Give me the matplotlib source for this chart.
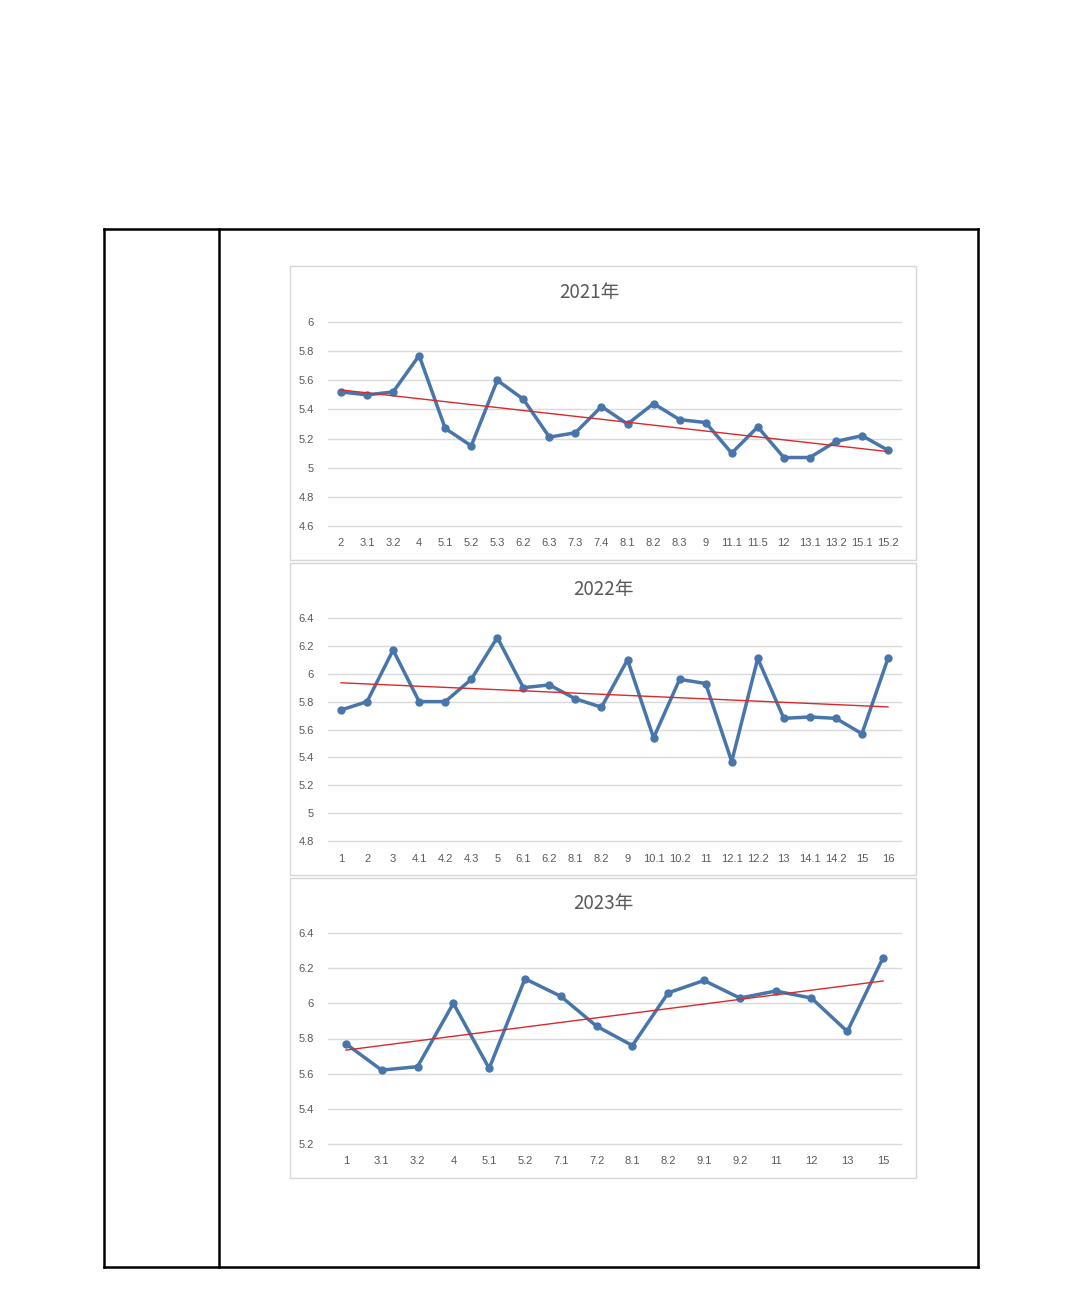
import numpy as np
import matplotlib
matplotlib.use("Agg")
import matplotlib.pyplot as plt
from matplotlib.patches import Rectangle
from matplotlib.lines import Line2D

# ---------------- data ----------------
labels_2021 = ["2", "3.1", "3.2", "4", "5.1", "5.2", "5.3", "6.2", "6.3", "7.3", "7.4",
               "8.1", "8.2", "8.3", "9", "11.1", "11.5", "12", "13.1", "13.2", "15.1", "15.2"]
values_2021 = [5.52, 5.50, 5.52, 5.77, 5.27, 5.15, 5.60, 5.47, 5.21, 5.24, 5.42,
               5.30, 5.44, 5.33, 5.31, 5.10, 5.28, 5.07, 5.07, 5.18, 5.22, 5.12]

labels_2022 = ["1", "2", "3", "4.1", "4.2", "4.3", "5", "6.1", "6.2", "8.1", "8.2",
               "9", "10.1", "10.2", "11", "12.1", "12.2", "13", "14.1", "14.2", "15", "16"]
values_2022 = [5.74, 5.80, 6.17, 5.80, 5.80, 5.96, 6.26, 5.90, 5.92, 5.82, 5.76,
               6.10, 5.54, 5.96, 5.93, 5.37, 6.11, 5.68, 5.69, 5.68, 5.57, 6.11]

labels_2023 = ["1", "3.1", "3.2", "4", "5.1", "5.2", "7.1", "7.2", "8.1", "8.2",
               "9.1", "9.2", "11", "12", "13", "15"]
values_2023 = [5.77, 5.62, 5.64, 6.00, 5.63, 6.14, 6.04, 5.87, 5.76, 6.06,
               6.13, 6.03, 6.07, 6.03, 5.84, 6.26]

titles = ["2021年", "2022年", "2023年"]
yticks_2021 = [4.6, 4.8, 5.0, 5.2, 5.4, 5.6, 5.8, 6.0]
yticks_2022 = [4.8, 5.0, 5.2, 5.4, 5.6, 5.8, 6.0, 6.2, 6.4]
yticks_2023 = [5.2, 5.4, 5.6, 5.8, 6.0, 6.2, 6.4]

# ---------------- layout ----------------
W, H = 1080, 1306
fig = plt.figure(figsize=(W / 100, H / 100), dpi=100)
fig.patch.set_facecolor("white")


def fx(x):
    return x / W


def fy(y):
    return 1 - y / H


# table frame
def hline(x0, x1, y, lw=1.8):
    fig.add_artist(Line2D([fx(x0), fx(x1)], [fy(y), fy(y)], color="black", lw=lw,
                          transform=fig.transFigure))


def vline(x, y0, y1, lw=1.8):
    fig.add_artist(Line2D([fx(x), fx(x)], [fy(y0), fy(y1)], color="black", lw=lw,
                          transform=fig.transFigure))


hline(104, 978, 229)
hline(104, 978, 1267)
vline(104, 229, 1267)
vline(978, 229, 1267)
vline(219, 229, 1267)

panels = [
    dict(box=(290, 266, 916, 560), ax=(328, 322, 901, 526), title=(589, 293),
         labels=labels_2021, values=values_2021, yticks=yticks_2021),
    dict(box=(290, 563, 916, 875), ax=(328, 618, 901, 841), title=(603, 589),
         labels=labels_2022, values=values_2022, yticks=yticks_2022),
    dict(box=(290, 878, 916, 1178), ax=(328, 933, 901, 1144), title=(603, 903),
         labels=labels_2023, values=values_2023, yticks=yticks_2023),
]

line_color = "#4876AA"
trend_color = "#D9292B"
text_color = "#595959"
grid_color = "#D9D9D9"

for p, title in zip(panels, titles):
    bx0, by0, bx1, by1 = p["box"]
    fig.add_artist(Rectangle((fx(bx0), fy(by1)), fx(bx1 - bx0), (by1 - by0) / H,
                             transform=fig.transFigure, facecolor="none",
                             edgecolor="#D6D6D6", lw=1.0, zorder=-1))
    ax0, ay0, ax1, ay1 = p["ax"]
    ax = fig.add_axes([fx(ax0), fy(ay1), fx(ax1 - ax0), (ay1 - ay0) / H])
    ax.set_facecolor("none")
    n = len(p["values"])
    x = np.arange(n)
    yv = np.array(p["values"])
    ax.plot(x, yv, color=line_color, lw=2.5, marker="o", markersize=5,
            markerfacecolor=line_color, markeredgecolor=line_color, zorder=3)
    k, b = np.polyfit(x, yv, 1)
    ax.plot(x, k * x + b, color=trend_color, lw=1.0, zorder=4)
    ax.set_xlim(-0.5, n - 0.5)
    yt = p["yticks"]
    ax.set_ylim(yt[0], yt[-1])
    ax.set_yticks(yt)
    ax.set_yticklabels([f"{v:g}" for v in yt])
    ax.set_xticks(x)
    ax.set_xticklabels(p["labels"])
    for s in ax.spines.values():
        s.set_visible(False)
    ax.grid(axis="y", color=grid_color, lw=1.0, zorder=0)
    for gl in ax.get_ygridlines():
        gl.set_clip_on(False)
    ax.set_axisbelow(True)
    ax.tick_params(axis="both", length=0, labelsize=8, colors=text_color)
    ax.tick_params(axis="y", pad=10)
    ax.tick_params(axis="x", pad=9)
    for lab in ax.get_xticklabels() + ax.get_yticklabels():
        lab.set_fontfamily("Liberation Sans")
    tx, ty = p["title"]
    fig.text(fx(tx), fy(ty), title, ha="center", va="center", fontsize=13.5,
             color=text_color, family=["Noto Sans CJK SC", "DejaVu Sans"])

fig.savefig("out.png", dpi=100, facecolor="white")
